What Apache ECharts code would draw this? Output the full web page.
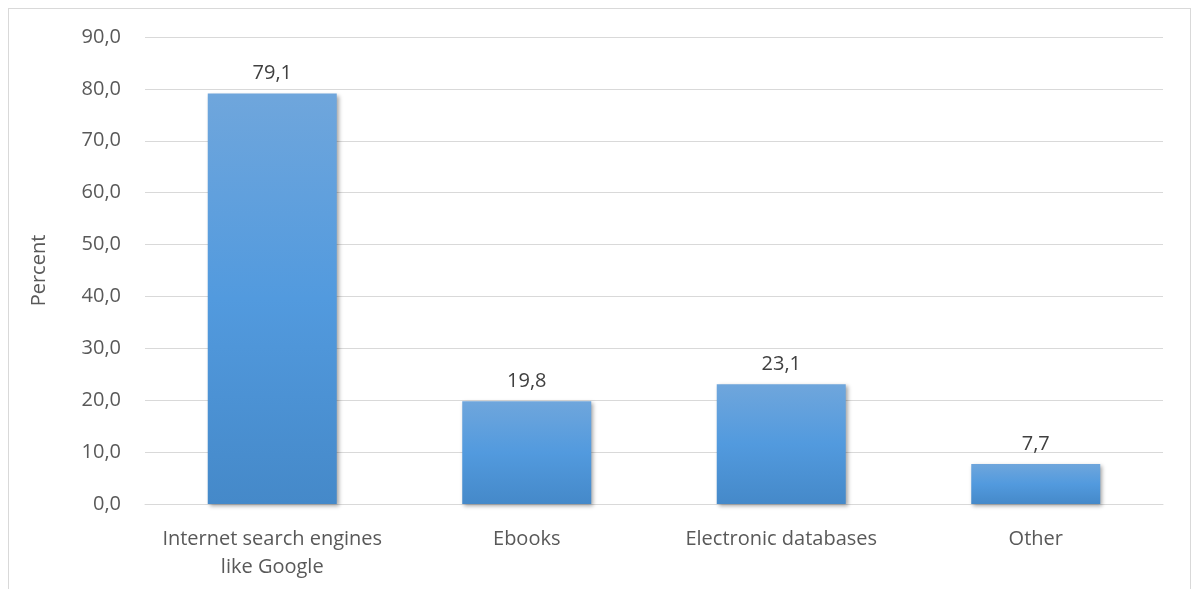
<!DOCTYPE html>
<html>
<head>
<meta charset="utf-8">
<script src="https://cdn.jsdelivr.net/npm/echarts@6/dist/echarts.min.js"></script>
<style>
  html, body { margin: 0; padding: 0; background: #fff; }
  #frame { position: absolute; left: 8px; top: 8px; width: 1183px; height: 600px; border: 1px solid #d9d9d9; box-sizing: border-box; }
  #chart { position: absolute; left: 0; top: 0; width: 1199px; height: 589px; }
</style>
</head>
<body>
<div id="frame"></div>
<div id="chart"></div>
<script>
const categories = ["Internet search engines\nlike Google", "Ebooks", "Electronic databases", "Other"];
const percents = [79.1, 19.8, 23.1, 7.7];
const yTicks = { min: 0, max: 90, step: 10 };

const fmt = v => v.toFixed(1).replace(".", ",");
const font = "'Open Sans', 'Liberation Sans', sans-serif";

const chart = echarts.init(document.getElementById("chart"));
chart.setOption({
  animation: false,
  grid: { left: 145, right: 36, top: 37, bottom: 85 },
  xAxis: {
    type: "category",
    data: categories,
    axisLine: { lineStyle: { color: "#d9d9d9", width: 1 } },
    axisTick: { show: false },
    axisLabel: { interval: 0, color: "#595959", fontSize: 20, fontFamily: font, margin: 21, lineHeight: 28 }
  },
  yAxis: {
    type: "value",
    min: yTicks.min,
    max: yTicks.max,
    interval: yTicks.step,
    name: "Percent",
    nameLocation: "middle",
    nameGap: 96,
    nameTextStyle: { color: "#595959", fontSize: 20, fontFamily: font },
    axisLine: { show: false },
    axisTick: { show: false },
    splitLine: { lineStyle: { color: "#d9d9d9", width: 1 } },
    axisLabel: { color: "#595959", fontSize: 20, fontFamily: font, margin: 24, formatter: fmt }
  },
  series: [{
    type: "bar",
    data: percents,
    barWidth: 129,
    itemStyle: {
      color: new echarts.graphic.LinearGradient(0, 0, 0, 1, [
        { offset: 0, color: "#6fa6dc" },
        { offset: 0.5, color: "#529ade" },
        { offset: 1, color: "#4589c9" }
      ]),
      shadowColor: "rgba(0,0,0,0.35)",
      shadowBlur: 4,
      shadowOffsetX: 2,
      shadowOffsetY: 2
    },
    label: {
      show: true,
      position: "top",
      distance: 10,
      color: "#404040",
      fontSize: 20,
      fontFamily: font,
      formatter: p => fmt(p.value)
    }
  }]
});
</script>
</body>
</html>
